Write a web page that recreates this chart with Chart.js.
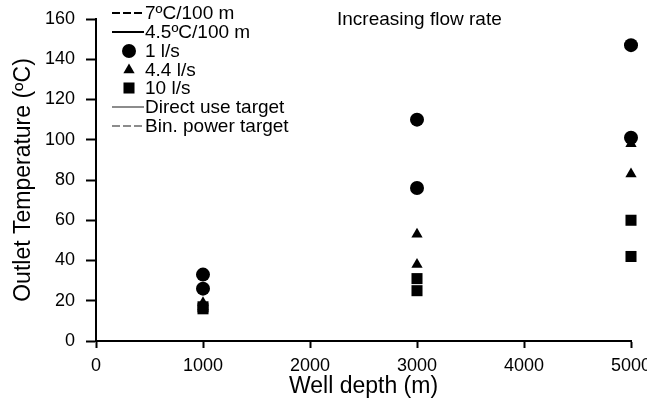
<!DOCTYPE html>
<html>
<head>
<meta charset="utf-8">
<script src="https://cdn.jsdelivr.net/npm/chart.js@4"></script>
<style>
  html, body { margin: 0; padding: 0; background: #fff; }
  #wrap { width: 647px; height: 406px; }
</style>
</head>
<body>
<div id="wrap"><canvas id="chart" width="647" height="406"></canvas></div>
<script>
// well depths (m)
const depths = [1000, 3000, 5000];

// outlet temperature (oC), 7oC/100 m gradient
const hot1 = [33, 110, 147];
const hot44 = [19, 53, 98];
const hot10 = [17, 31, 60];

// outlet temperature (oC), 4.5oC/100 m gradient
const mild1 = [26, 76, 101];
const mild44 = [17, 38, 83];
const mild10 = [16, 25, 42];

const yTicks = [0, 20, 40, 60, 80, 100, 120, 140, 160];
const xTicks = [0, 1000, 2000, 3000, 4000, 5000];

const legendLabels = ['7\u00baC/100 m', '4.5\u00baC/100 m', '1 l/s', '4.4 l/s', '10 l/s', 'Direct use target', 'Bin. power target'];
const noteText = 'Increasing flow rate';

const FONT = '"Liberation Sans", Arial, sans-serif';

function pts(vals) {
    return depths.map((d, i) => ({ x: d, y: vals[i] }));
}

function markerSet(label, vals, style, r) {
    return {
        label: label,
        data: pts(vals),
        showLine: false,
        clip: false,
        pointStyle: style,
        pointRadius: r,
        pointHoverRadius: r,
        backgroundColor: '#000',
        borderColor: '#000',
        borderWidth: 0
    };
}

// legend drawn in the top-left of the plot, one row per entry
const legendPlugin = {
    id: 'sideLegend',
    afterDraw(chart) {
        const ctx = chart.ctx;
        const x0 = 112, x1 = 144, tx = 145;
        const rowY = [13, 32, 51, 70, 88, 107, 126];
        ctx.save();
        ctx.font = '19px ' + FONT;
        ctx.textBaseline = 'middle';
        ctx.fillStyle = '#000';
        legendLabels.forEach((lab, i) => {
            const y = rowY[i];
            ctx.save();
            if (i === 0 || i === 1 || i === 5 || i === 6) {
                ctx.beginPath();
                ctx.lineWidth = 2;
                ctx.strokeStyle = (i >= 5) ? '#8c8c8c' : '#000';
                ctx.setLineDash((i === 0 || i === 6) ? [8, 3] : []);
                ctx.moveTo(x0, y);
                ctx.lineTo(x1, y);
                ctx.stroke();
            } else {
                const st = i === 2 ? 'circle' : (i === 3 ? 'triangle' : 'rect');
                const r = i === 2 ? 7 : (i === 3 ? 6.5 : 7.8);
                ctx.fillStyle = '#000';
                ctx.strokeStyle = '#000';
                Chart.helpers.drawPoint(ctx, { pointStyle: st, radius: r, borderWidth: 0 }, 129, y);
            }
            ctx.restore();
            ctx.fillText(lab, tx, y + 1);
        });
        ctx.fillText(noteText, 337, 20);
        ctx.restore();
    }
};

const ctx = document.getElementById('chart').getContext('2d');
const chart = new Chart(ctx, {
    type: 'scatter',
    data: {
        datasets: [
            markerSet('1 l/s, 7', hot1, 'circle', 7),
            markerSet('1 l/s, 4.5', mild1, 'circle', 7),
            markerSet('4.4 l/s, 7', hot44, 'triangle', 6.5),
            markerSet('4.4 l/s, 4.5', mild44, 'triangle', 6.5),
            markerSet('10 l/s, 7', hot10, 'rect', 7.8),
            markerSet('10 l/s, 4.5', mild10, 'rect', 7.8)
        ]
    },
    options: {
        responsive: false,
        animation: false,
        layout: { padding: { top: 19, right: 16, left: 0, bottom: 0 } },
        plugins: {
            legend: { display: false },
            tooltip: { enabled: false }
        },
        scales: {
            x: {
                type: 'linear',
                min: 0,
                max: 5000,
                afterBuildTicks: s => { s.ticks = xTicks.map(v => ({ value: v })); },
                afterFit: s => { s.height = 65; s.paddingLeft = 0; s.paddingRight = 0; },
                grid: { drawOnChartArea: false, tickLength: 7, tickColor: '#000', tickWidth: 2 },
                border: { color: '#000', width: 2 },
                ticks: { color: '#000', font: { family: FONT, size: 18 }, padding: 7, maxRotation: 0, callback: v => String(v) },
                title: { display: true, text: 'Well depth (m)', color: '#000', font: { family: FONT, size: 23 }, padding: { top: 0, bottom: 6 } }
            },
            y: {
                type: 'linear',
                min: 0,
                max: 160,
                afterBuildTicks: s => { s.ticks = yTicks.map(v => ({ value: v })); },
                afterFit: s => { s.width = 96; s.paddingTop = 0; s.paddingBottom = 0; },
                grid: { drawOnChartArea: false, tickLength: 10, tickColor: '#000', tickWidth: 2 },
                border: { color: '#000', width: 2 },
                ticks: { color: '#000', font: { family: FONT, size: 18 }, padding: 11, callback: v => String(v) },
                title: { display: true, text: 'Outlet Temperature (\u00baC)', color: '#000', font: { family: FONT, size: 23 }, padding: { top: 10, bottom: 0 } }
            }
        }
    },
    plugins: [legendPlugin]
});
</script>
</body>
</html>
